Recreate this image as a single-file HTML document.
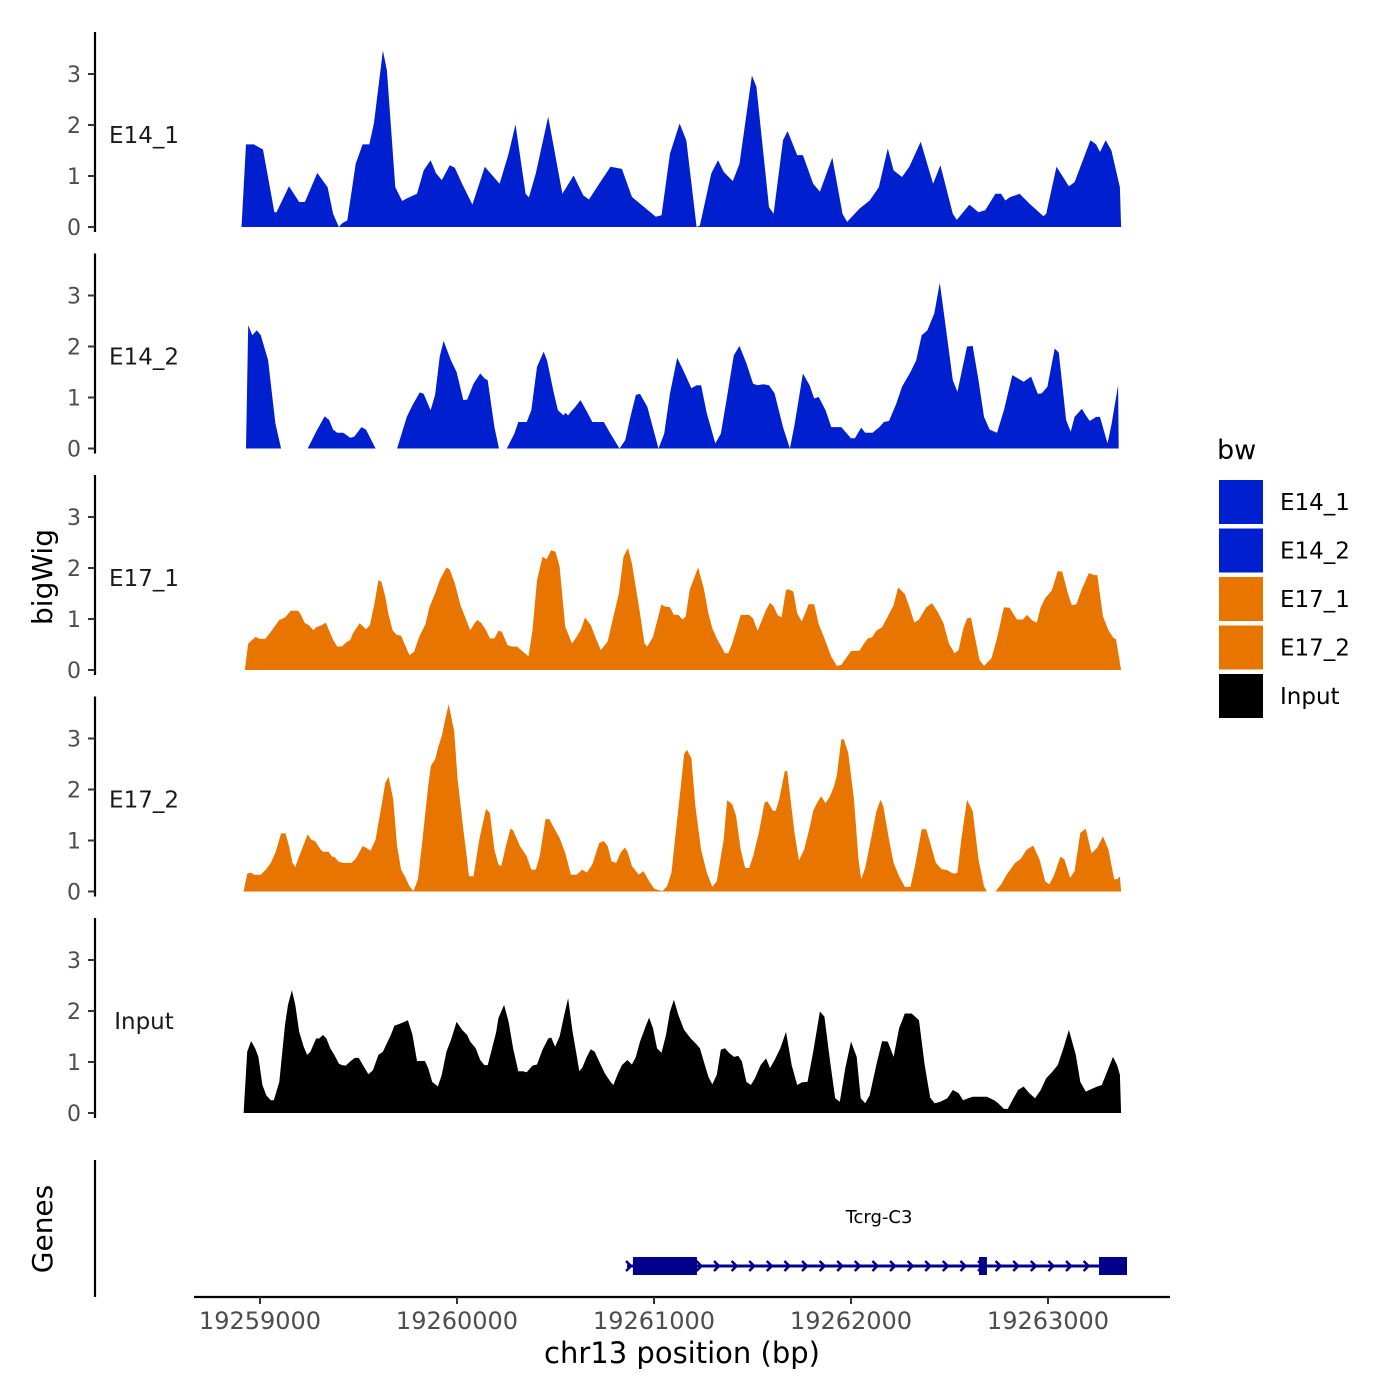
<!DOCTYPE html>
<html><head><meta charset="utf-8"><style>
html,body{margin:0;padding:0;background:#fff;}
svg{display:block;font-family:"DejaVu Sans","Liberation Sans",sans-serif;}
</style></head><body>
<svg id="chart" width="1400" height="1400" viewBox="0 0 1400 1400" xmlns="http://www.w3.org/2000/svg"></svg>
<script>
// ---- data ----
const regionStart = 19258883; // bp; offsets below are bp from this start
const trackNames = ["E14_1","E14_2","E17_1","E17_2","Input"];
const trackColors = ["#0020d0","#0020d0","#e87500","#e87500","#000000"];
const yTicks = [0,1,2,3];
const xTicks = [19259000,19260000,19261000,19262000,19263000];
// null marks a gap (no coverage)
const e14_1_pos = [23,46,86,132,190,201,264,316,345,408,460,488,517,534,560,603,638,672,695,741,761,804,839,862,914,948,983,1011,1040,1080,1106,1143,1195,1258,1333,1379,1414,1465,1482,1517,1580,1652,1709,1758,1787,1839,1896,1954,2005,2126,2155,2198,2247,2281,2333,2350,2408,2442,2471,2517,2551,2614,2637,2701,2724,2772,2795,2844,2873,2925,2959,3022,3074,3097,3160,3212,3258,3304,3333,3376,3413,3471,3534,3571,3634,3654,3718,3764,3798,3850,3879,3901,3922,3973,4022,4094,4108,4160,4223,4252,4332,4361,4381,4410,4439,4482,4488];
const e14_1_val = [0,1.62,1.62,1.52,0.29,0.29,0.80,0.49,0.49,1.06,0.78,0.26,0,0.07,0.13,1.24,1.62,1.62,2.03,3.46,3.07,0.78,0.51,0.56,0.65,1.11,1.31,1.05,0.92,1.21,1.16,0.85,0.44,1.18,0.85,1.44,2.01,0.65,0.58,1.05,2.16,0.65,1.01,0.62,0.54,0.85,1.18,1.14,0.59,0.20,0.23,1.44,2.03,1.70,0,0.03,1.05,1.31,1.08,0.90,1.24,2.97,2.75,0.39,0.26,1.70,1.88,1.41,1.41,0.85,0.69,1.36,0.26,0.10,0.36,0.52,0.78,1.54,1.11,0.98,1.18,1.67,0.85,1.21,0.26,0.14,0.44,0.29,0.33,0.65,0.65,0.52,0.58,0.65,0.46,0.21,0.26,1.18,0.80,0.88,1.70,1.62,1.47,1.70,1.50,0.78,0];
const e14_2_pos = [46,57,78,101,121,158,195,224,null,359,402,445,468,488,509,540,575,595,632,655,704,null,813,862,891,928,948,983,1006,1029,1049,1086,1115,1149,1169,1201,1235,1258,1273,1307,1330,null,1370,1408,1428,1471,1494,1523,1557,1574,1609,1629,1658,1666,1681,1695,1718,1744,1781,1804,1862,1896,1942,1971,1997,2025,2046,2083,2140,2169,2198,2235,2270,2307,2333,2356,2385,2428,2456,2485,2522,2551,2586,2620,2643,2672,2701,2729,2772,2807,2830,2873,2907,2930,2953,2988,3017,3068,3088,3117,3137,3169,3189,3226,3261,3284,3310,3347,3376,3419,3448,3476,3505,3540,3568,3591,3634,3657,3706,3735,3764,3792,3821,3858,3893,3936,3993,4031,4065,4085,4114,4151,4172,4209,4232,4252,4289,4309,4329,4361,4381,4419,4439,4473,4476];
const e14_2_val = [0,2.42,2.22,2.32,2.22,1.73,0.49,0,null,0,0.33,0.63,0.56,0.37,0.31,0.31,0.21,0.23,0.42,0.37,0,null,0,0.62,0.85,1.10,1.07,0.75,1.05,1.80,2.11,1.73,1.50,0.95,0.96,1.27,1.47,1.37,1.34,0.42,0,null,0,0.29,0.52,0.52,0.75,1.60,1.90,1.73,1.08,0.75,0.65,0.70,0.65,0.72,0.82,0.95,0.69,0.52,0.52,0.29,0,0.16,0.62,1.05,1.07,0.82,0,0.29,1.08,1.78,1.50,1.18,1.24,1.24,0.69,0.10,0.29,0.95,1.83,2.01,1.67,1.27,1.24,1.26,1.24,1.08,0.42,0,0.46,1.47,1.24,0.98,1.01,0.75,0.42,0.42,0.33,0.20,0.20,0.41,0.31,0.31,0.42,0.52,0.54,0.88,1.21,1.50,1.73,2.22,2.32,2.65,3.25,2.58,1.34,1.11,2.00,2.01,1.34,0.62,0.37,0.31,0.75,1.44,1.31,1.41,1.07,1.08,1.21,1.96,1.88,0.56,0.33,0.62,0.78,0.65,0.54,0.62,0.62,0.10,0.46,1.24,0];
const e17_1_pos = [40,57,95,115,144,172,215,244,273,310,322,345,365,388,402,431,451,465,488,509,532,554,575,589,623,655,675,698,718,733,753,770,790,810,833,853,876,899,925,957,977,1006,1029,1063,1080,1106,1135,1164,1184,1207,1221,1241,1264,1284,1307,1327,1345,1373,1393,1422,1451,1480,1500,1523,1551,1572,1595,1617,1638,1666,1701,1724,1747,1767,1796,1819,1847,1882,1911,1939,1962,1985,2005,2046,2069,2083,2112,2155,2169,2198,2218,2241,2261,2278,2298,2341,2370,2393,2413,2436,2477,2494,2514,2557,2600,2620,2643,2686,2706,2724,2744,2764,2787,2801,2824,2844,2867,2887,2902,2930,2953,2982,3017,3045,3068,3117,3160,3183,3203,3224,3246,3275,3298,3333,3356,3390,3413,3439,3462,3499,3528,3557,3586,3614,3643,3663,3686,3706,3726,3749,3769,3792,3830,3858,3893,3922,3959,3988,4011,4037,4060,4080,4103,4137,4166,4189,4218,4238,4261,4287,4324,4353,4367,4396,4424,4447,4462,4488];
const e17_1_val = [0,0.52,0.65,0.61,0.61,0.75,0.98,1.03,1.16,1.16,1.10,0.92,0.88,0.78,0.84,0.88,0.93,0.80,0.59,0.46,0.46,0.54,0.59,0.72,0.92,0.80,0.88,1.31,1.76,1.73,1.44,1.08,0.78,0.69,0.67,0.49,0.29,0.36,0.65,0.90,1.23,1.50,1.76,2.01,1.97,1.70,1.27,0.98,0.78,0.92,0.98,0.92,0.78,0.62,0.62,0.77,0.75,0.49,0.46,0.46,0.36,0.27,0.78,1.76,2.22,2.17,2.35,2.32,2.03,0.85,0.52,0.65,0.80,1.03,0.88,0.65,0.39,0.56,1.05,1.50,2.22,2.39,2.09,1.11,0.52,0.46,0.65,1.29,1.25,1.23,1.08,1.08,0.99,1.05,1.57,2.01,1.60,1.11,0.82,0.62,0.33,0.33,0.52,1.08,1.08,1.01,0.77,1.18,1.32,1.25,1.08,1.03,1.57,1.58,1.54,1.11,0.95,1.14,1.29,1.29,0.90,0.62,0.26,0.08,0.10,0.37,0.38,0.52,0.62,0.64,0.77,0.84,1.01,1.27,1.62,1.49,1.24,0.93,0.99,1.23,1.31,1.14,0.92,0.52,0.33,0.39,0.80,1.01,1.03,0.59,0.20,0.08,0.23,0.62,1.23,1.22,0.99,0.99,1.08,0.97,0.93,1.23,1.41,1.56,1.94,1.93,1.50,1.27,1.29,1.57,1.90,1.86,1.86,1.05,0.78,0.64,0.60,0];
const e17_2_pos = [34,52,72,86,121,149,172,195,224,247,264,282,296,310,336,359,379,396,425,437,465,483,494,517,540,580,603,638,655,678,704,733,753,770,793,813,833,856,876,896,919,942,971,985,1006,1023,1040,1057,1075,1103,1120,1149,1166,1178,1201,1230,1264,1284,1307,1327,1342,1365,1388,1402,1437,1471,1494,1517,1537,1566,1586,1609,1638,1666,1695,1724,1753,1776,1804,1839,1862,1882,1902,1925,1948,1968,1982,2005,2040,2063,2097,2120,2140,2160,2183,2206,2227,2255,2270,2284,2307,2327,2356,2385,2413,2436,2471,2488,2514,2534,2557,2580,2600,2620,2649,2678,2692,2721,2735,2752,2781,2793,2830,2853,2879,2907,2925,2945,2965,2988,3011,3031,3045,3068,3080,3103,3132,3155,3169,3189,3218,3246,3267,3281,3310,3333,3361,3390,3419,3442,3476,3499,3519,3548,3577,3606,3626,3643,3657,3677,3706,3735,3764,3792,3807,null,3850,3879,3907,3950,3979,4008,4042,4074,4103,4123,4146,4180,4200,4229,4252,4281,4309,4338,4367,4396,4424,4453,4468,4482,4488];
const e17_2_val = [0,0.35,0.37,0.33,0.33,0.44,0.56,0.76,1.14,1.14,0.89,0.56,0.48,0.63,0.89,1.12,1.01,0.99,0.82,0.78,0.78,0.68,0.68,0.58,0.56,0.56,0.64,0.89,0.86,0.80,1.02,1.67,2.13,2.25,1.81,0.89,0.43,0.27,0.10,0.01,0.24,1.02,2.07,2.47,2.59,2.85,3.05,3.37,3.67,3.14,2.20,1.22,0.69,0.30,0.30,1.02,1.62,1.54,0.82,0.53,0.50,0.89,1.23,1.20,0.89,0.69,0.43,0.43,0.69,1.42,1.42,1.25,1.05,0.76,0.33,0.33,0.43,0.37,0.53,0.95,0.99,0.89,0.59,0.56,0.76,0.86,0.79,0.50,0.33,0.40,0.17,0.05,0.03,0.01,0.10,0.37,1.15,2.13,2.69,2.78,2.61,1.67,0.82,0.37,0.09,0.20,1.02,1.79,1.71,1.48,0.82,0.46,0.46,0.69,1.15,1.74,1.77,1.58,1.58,1.80,2.36,2.36,1.15,0.61,0.82,1.25,1.58,1.74,1.87,1.73,1.87,2.07,2.27,2.98,2.99,2.72,1.80,0.63,0.24,0.46,1.02,1.57,1.80,1.67,1.02,0.56,0.30,0.09,0.09,0.50,1.22,1.22,0.95,0.56,0.44,0.42,0.37,0.35,0.37,1.02,1.80,1.58,0.63,0.10,0,null,0,0.14,0.33,0.56,0.64,0.82,0.90,0.63,0.20,0.14,0.30,0.68,0.63,0.27,0.40,1.15,1.23,0.75,0.86,1.08,0.82,0.24,0.24,0.30,0];
const input_pos = [34,52,72,92,109,129,149,172,187,215,244,259,279,296,316,339,356,373,402,417,437,454,474,494,517,532,552,575,598,618,638,667,690,718,741,761,781,799,833,868,891,914,954,971,991,1020,1040,1063,1086,1115,1143,1169,1184,1212,1235,1256,1273,1293,1316,1327,1356,1379,1402,1428,1451,1471,1500,1523,1551,1580,1595,1615,1638,1661,1681,1704,1724,1738,1753,1776,1796,1816,1839,1867,1896,1911,1931,1954,1982,2005,2025,2046,2074,2092,2112,2132,2155,2178,2198,2218,2241,2270,2304,2327,2350,2370,2393,2413,2436,2456,2477,2500,2523,2545,2563,2586,2609,2629,2658,2686,2706,2729,2758,2787,2816,2844,2867,2896,2925,2959,2982,3011,3037,3060,3088,3117,3146,3166,3189,3212,3246,3275,3304,3333,3361,3390,3425,3462,3491,3519,3542,3571,3606,3634,3663,3686,3712,3735,3764,3807,3844,3864,3893,3913,3942,3965,3993,4022,4051,4080,4108,4137,4166,4195,4223,4258,4281,4309,4338,4367,4390,4424,4447,4468,4482,4488];
const input_val = [0,1.20,1.41,1.27,1.10,0.55,0.35,0.25,0.25,0.61,1.73,2.12,2.41,2.12,1.59,1.30,1.14,1.20,1.46,1.46,1.53,1.46,1.27,1.14,0.97,0.94,0.93,1.01,1.08,1.08,0.95,0.76,0.84,1.14,1.20,1.37,1.53,1.71,1.76,1.82,1.53,1.02,1.02,0.88,0.61,0.52,0.75,1.20,1.43,1.79,1.63,1.53,1.40,1.27,1.04,0.94,0.94,1.24,1.59,1.86,2.12,1.79,1.27,0.82,0.82,0.80,0.93,0.95,1.24,1.46,1.48,1.30,1.50,1.92,2.25,1.59,1.14,0.82,0.89,1.10,1.25,1.20,1.01,0.78,0.61,0.55,0.75,0.94,1.04,0.95,1.10,1.40,1.69,1.87,1.66,1.27,1.18,1.53,1.99,2.22,1.92,1.63,1.46,1.37,1.27,1.01,0.71,0.56,0.75,1.24,1.27,1.17,1.10,1.12,1.01,0.61,0.55,0.68,0.94,1.07,0.88,1.04,1.27,1.59,0.94,0.55,0.60,0.61,1.20,1.99,1.89,1.01,0.29,0.22,0.88,1.40,1.10,0.29,0.19,0.35,0.95,1.41,1.40,1.10,1.66,1.95,1.95,1.82,0.94,0.30,0.19,0.22,0.29,0.45,0.39,0.25,0.29,0.32,0.32,0.32,0.25,0.19,0.08,0.08,0.29,0.45,0.52,0.39,0.29,0.45,0.68,0.80,0.94,1.27,1.63,1.14,0.61,0.42,0.47,0.52,0.55,0.88,1.10,0.94,0.75,0];
const trackPos = [e14_1_pos,e14_2_pos,e17_1_pos,e17_2_pos,input_pos];
const trackVal = [e14_1_val,e14_2_val,e17_1_val,e17_2_val,input_val];
// gene model
const geneName = "Tcrg-C3";
const geneStart = 19260863, geneEnd = 19263401;
const exonStarts = [19260893,19262650,19263259];
const exonEnds = [19261218,19262690,19263401];

// ---- layout ----
const NS = "http://www.w3.org/2000/svg";
const svg = document.getElementById('chart');
function mk(tag, attrs, parent){ const e=document.createElementNS(NS,tag); for(const k in attrs) e.setAttribute(k,attrs[k]); (parent||svg).appendChild(e); return e; }
const xScale = bp => 260 + (bp - 19259000) * 197 / 1000;
const trackTop0 = 227, trackStep = 221.5, unitPx = 51;
const yScale = (i, v) => trackTop0 + i*trackStep - v*unitPx;

for (let i=0;i<5;i++){
  const g = mk('g',{});
  
  
  const base = yScale(i,0);
  const ax = mk('line',{x1:95,x2:95,y1:base-195,y2:base+5,stroke:'#000','stroke-width':2.2},g);
  
  
  yTicks.forEach(t=>{
    const y=yScale(i,t);
    const tk=mk('line',{x1:88,x2:95,y1:y,y2:y,stroke:'#333','stroke-width':2},g);
    
    
    const tl=mk('text',{x:81,y:y+8,'text-anchor':'end','font-size':22,fill:'#4d4d4d'},g);
    tl.textContent=t;
    
    
  });
  const lab=mk('text',{x:144,y:base-84,'text-anchor':'middle','font-size':23,fill:'#1a1a1a'},g);
  lab.textContent=trackNames[i];
  
  
  const P=trackPos[i], V=trackVal[i];
  let segs=[], cur=[];
  for(let k=0;k<P.length;k++){
    if(P[k]===null){ if(cur.length) segs.push(cur); cur=[]; continue; }
    cur.push([xScale(regionStart+P[k]), yScale(i,V[k])]);
  }
  if(cur.length) segs.push(cur);
  segs.forEach(s=>{
    let d='M'+s[0][0].toFixed(1)+','+base;
    s.forEach(p=>{ d+='L'+p[0].toFixed(1)+','+p[1].toFixed(1); });
    d+='L'+s[s.length-1][0].toFixed(1)+','+base+'Z';
    const a=mk('path',{d:d,fill:trackColors[i]},g);
    
    
  });
}

const yt=mk('text',{x:0,y:0,transform:'translate(52,577) rotate(-90)','text-anchor':'middle','font-size':28,fill:'#000'});
yt.textContent='bigWig';



const gg=mk('g',{});


const gax=mk('line',{x1:95,x2:95,y1:1160,y2:1297,stroke:'#000','stroke-width':2.2},gg);


const gt=mk('text',{x:0,y:0,transform:'translate(52,1229) rotate(-90)','text-anchor':'middle','font-size':28,fill:'#000'},gg);
gt.textContent='Genes';


const gy=1266;
const gl=mk('line',{x1:xScale(geneStart),x2:xScale(geneEnd),y1:gy,y2:gy,stroke:'#00008b','stroke-width':3},gg);


for(let x=xScale(geneStart)+2;x<xScale(geneEnd)-4;x+=17.6){
  const c=mk('path',{d:`M${x-3},${gy-5}L${x+2},${gy}L${x-3},${gy+5}`,fill:'none',stroke:'#00008b','stroke-width':2.5},gg);
  
  
}
exonStarts.forEach((s,k)=>{
  const r=mk('rect',{x:xScale(s),y:gy-9,width:xScale(exonEnds[k])-xScale(s),height:18,fill:'#00008b'},gg);
  
  
});
const gn=mk('text',{x:879,y:1223,'text-anchor':'middle','font-size':18,fill:'#000'},gg);
gn.textContent=geneName;



const xa=mk('line',{x1:194,x2:1170,y1:1297,y2:1297,stroke:'#000','stroke-width':2.2});


xTicks.forEach(t=>{
  const x=xScale(t);
  const tk=mk('line',{x1:x,x2:x,y1:1297,y2:1304,stroke:'#333','stroke-width':2});
  
  
  const tl=mk('text',{x:x,y:1329,'text-anchor':'middle','font-size':24,fill:'#4d4d4d'});
  tl.textContent=t;
  
  
});
const xt=mk('text',{x:682,y:1363,'text-anchor':'middle','font-size':29,fill:'#000'});
xt.textContent='chr13 position (bp)';



const lg=mk('g',{});


const lt=mk('text',{x:1217,y:459,'font-size':27,fill:'#000'},lg);
lt.textContent='bw';


trackNames.forEach((n,k)=>{
  const y=480+k*48.5;
  const r=mk('rect',{x:1219,y:y,width:44,height:44,fill:trackColors[k]},lg);
  
  
  const t=mk('text',{x:1280,y:y+30,'font-size':23,fill:'#000'},lg);
  t.textContent=n;
  
  
});
</script>
</body></html>
